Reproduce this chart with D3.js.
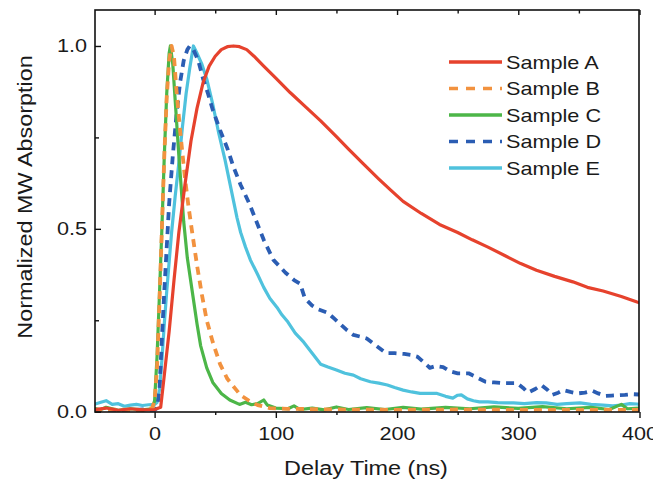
<!DOCTYPE html>
<html>
<head>
<meta charset="utf-8">
<script src="https://cdn.jsdelivr.net/npm/d3@7"></script>
<style>
  body { margin: 0; background: #fff; }
  text { font-family: "Liberation Sans", Arial, sans-serif; fill: #1a1a1a; }
</style>
</head>
<body>
<svg id="chart" width="653" height="484"></svg>
<script>
// values: [delay time (ns), normalized absorption]
const sampleA = [[-50,0.005],[-40,0.01],[-30,0.004],[-20,0.008],[-10,0.005],[0,0.006],[5,0.012],[8,0.1],[12,0.22],[16,0.36],[20,0.49],[25,0.62],[30,0.74],[35,0.83],[40,0.9],[45,0.945],[50,0.972],[55,0.99],[60,0.998],[65,1.0],[70,0.998],[76,0.99],[82,0.972],[90,0.945],[100,0.912],[112,0.872],[125,0.832],[137,0.795],[150,0.752],[160,0.718],[172,0.678],[185,0.636],[195,0.605],[205,0.575],[220,0.542],[235,0.512],[250,0.49],[262,0.47],[275,0.45],[290,0.425],[302,0.405],[315,0.387],[330,0.37],[345,0.355],[357,0.34],[370,0.33],[385,0.315],[398,0.3],[400,0.298]];

const sampleB = [[-50,0.005],[-30,0.006],[-10,0.003],[-2,0.01],[0,0.03],[2,0.12],[4,0.3],[6,0.5],[8,0.7],[10,0.86],[12,0.96],[14,1.0],[16,0.97],[18,0.88],[21,0.77],[25,0.64],[28,0.56],[31,0.49],[35,0.4],[39,0.32],[43,0.25],[48,0.19],[54,0.13],[60,0.09],[66,0.065],[71,0.045],[78,0.03],[85,0.018],[95,0.01],[110,0.008],[150,0.006],[200,0.005],[250,0.006],[300,0.005],[350,0.005],[400,0.005]];

const sampleC = [[-50,0.01],[-45,0.005],[-40,0.012],[-30,0.004],[-20,0.008],[-10,0.005],[-2,0.008],[0,0.03],[2,0.15],[4,0.32],[6,0.5],[8,0.7],[10,0.87],[12,0.98],[13,1.0],[15,0.95],[17,0.85],[20,0.7],[24,0.52],[27,0.42],[31,0.33],[35,0.24],[38,0.18],[43,0.12],[48,0.08],[55,0.05],[62,0.032],[70,0.02],[75,0.026],[80,0.019],[85,0.022],[90,0.032],[93,0.018],[100,0.01],[110,0.008],[115,0.016],[120,0.006],[130,0.01],[140,0.005],[150,0.013],[160,0.006],[175,0.011],[190,0.006],[205,0.012],[220,0.007],[240,0.012],[260,0.008],[280,0.013],[300,0.009],[320,0.014],[340,0.008],[360,0.012],[375,0.006],[385,0.02],[390,0.008],[400,0.01]];

const sampleD = [[-50,0.005],[-30,0.003],[-10,0.006],[0,0.005],[2,0.01],[4,0.06],[6,0.2],[8,0.33],[10,0.45],[12,0.57],[15,0.7],[18,0.81],[21,0.9],[24,0.96],[27,0.99],[29,1.0],[32,0.99],[36,0.96],[40,0.91],[44,0.87],[48,0.825],[54,0.77],[60,0.72],[65,0.67],[71,0.62],[78,0.57],[84,0.52],[90,0.47],[98,0.415],[108,0.38],[115,0.36],[120,0.35],[124,0.31],[130,0.29],[135,0.28],[143,0.27],[148,0.255],[153,0.24],[158,0.225],[164,0.21],[170,0.205],[175,0.2],[183,0.18],[191,0.16],[198,0.16],[206,0.158],[212,0.155],[217,0.15],[222,0.135],[227,0.12],[232,0.125],[238,0.122],[244,0.11],[250,0.105],[259,0.105],[265,0.095],[273,0.082],[280,0.08],[288,0.078],[299,0.078],[304,0.065],[308,0.052],[314,0.062],[319,0.073],[324,0.06],[328,0.046],[333,0.052],[337,0.059],[343,0.054],[349,0.05],[355,0.052],[361,0.057],[366,0.05],[372,0.043],[377,0.044],[382,0.045],[388,0.046],[394,0.048],[400,0.047]];

const sampleE = [[-50,0.02],[-45,0.025],[-40,0.03],[-35,0.02],[-30,0.022],[-25,0.015],[-20,0.018],[-15,0.02],[-10,0.017],[-5,0.019],[0,0.02],[2,0.025],[4,0.06],[6,0.14],[8,0.24],[10,0.33],[12,0.41],[14,0.49],[17,0.59],[20,0.68],[23,0.78],[26,0.87],[29,0.94],[32,1.0],[35,0.98],[39,0.95],[43,0.91],[48,0.84],[53,0.76],[58,0.69],[63,0.61],[68,0.53],[71,0.49],[75,0.45],[79,0.415],[85,0.375],[90,0.34],[95,0.31],[101,0.285],[105,0.265],[110,0.245],[116,0.215],[123,0.19],[130,0.16],[137,0.13],[143,0.122],[150,0.114],[157,0.105],[164,0.1],[170,0.09],[178,0.082],[185,0.078],[192,0.073],[198,0.066],[205,0.059],[212,0.054],[219,0.05],[226,0.05],[233,0.05],[240,0.042],[246,0.037],[250,0.045],[253,0.046],[258,0.035],[263,0.03],[268,0.027],[275,0.027],[283,0.025],[290,0.024],[296,0.024],[305,0.022],[315,0.025],[323,0.024],[332,0.02],[340,0.022],[351,0.024],[360,0.02],[370,0.018],[378,0.016],[385,0.018],[392,0.022],[398,0.021],[400,0.02]];

const sampleNames = ["Sample A", "Sample B", "Sample C", "Sample D", "Sample E"];
const xMajorTicks = [0, 100, 200, 300, 400];
const xMinorTicks = [50, 150, 250, 350];
const yMajorTicks = [0, 0.5, 1.0];
const yMinorTicks = [0.25, 0.75];

const styles = [
  { color: "#e6422d", dash: null },
  { color: "#f2923f", dash: "8,6" },
  { color: "#4cb648", dash: null },
  { color: "#2b5db3", dash: "8,6" },
  { color: "#4fc2dd", dash: null }
];

const series = [sampleA, sampleB, sampleC, sampleD, sampleE];

const svg = d3.select("#chart");
const plotLeft = 95, plotRight = 639, plotTop = 10, plotBottom = 412;

const x = d3.scaleLinear().domain([-50, 400]).range([94, 639.5]);
const y = d3.scaleLinear().domain([0, 1.1]).range([411.7, 9.4]);

svg.append("clipPath").attr("id", "plot")
  .append("rect").attr("x", plotLeft).attr("y", plotTop)
  .attr("width", plotRight - plotLeft).attr("height", plotBottom - plotTop);

const line = d3.line().x(d => x(d[0])).y(d => y(d[1]));

const curves = svg.append("g").attr("clip-path", "url(#plot)");
// draw in reverse so Sample A ends up on top of the others like in the figure
[4, 3, 2, 1, 0].forEach(i => {
  curves.append("path")
    .datum(series[i])
    .attr("fill", "none")
    .attr("stroke", styles[i].color)
    .attr("stroke-width", styles[i].dash ? 3.8 : 3.2)
    .attr("stroke-dasharray", styles[i].dash)
    .attr("stroke-linejoin", "round")
    .attr("d", line);
});

// axes
const fontSize = 18.5;
function styleAxis(g) {
  g.select(".domain").remove();
  g.selectAll("line").attr("stroke", "#111").attr("stroke-width", 1.4);
  g.selectAll("text").style("font-size", fontSize + "px").attr("fill", "#1a1a1a");
}

svg.append("g").attr("transform", `translate(0,${plotBottom})`)
  .call(d3.axisBottom(x).tickValues(xMajorTicks).tickSize(6).tickPadding(9).tickFormat(d3.format("d")))
  .call(styleAxis);
svg.append("g").attr("transform", `translate(0,${plotBottom})`)
  .call(d3.axisBottom(x).tickValues(xMinorTicks).tickSize(3).tickFormat(""))
  .call(styleAxis);
svg.append("g").attr("transform", `translate(0,${plotTop})`)
  .call(d3.axisTop(x).tickValues(xMajorTicks).tickSize(-5).tickFormat(""))
  .call(styleAxis);
svg.append("g").attr("transform", `translate(0,${plotTop})`)
  .call(d3.axisTop(x).tickValues(xMinorTicks).tickSize(-3.5).tickFormat(""))
  .call(styleAxis);
svg.append("g").attr("transform", `translate(${plotLeft},0)`)
  .call(d3.axisLeft(y).tickValues(yMajorTicks).tickSize(-6).tickPadding(8).tickFormat(d3.format(".1f")))
  .call(styleAxis);
svg.append("g").attr("transform", `translate(${plotLeft},0)`)
  .call(d3.axisLeft(y).tickValues(yMinorTicks).tickSize(-4).tickFormat(""))
  .call(styleAxis);

svg.append("rect")
  .attr("x", plotLeft).attr("y", plotTop)
  .attr("width", plotRight - plotLeft).attr("height", plotBottom - plotTop)
  .attr("fill", "none").attr("stroke", "#111").attr("stroke-width", 1.6);

// axis titles
svg.append("text")
  .attr("x", 366).attr("y", 475)
  .attr("text-anchor", "middle")
  .style("font-size", "20px")
  .text("Delay Time (ns)");

svg.append("text")
  .attr("transform", "translate(32,197) rotate(-90)")
  .attr("text-anchor", "middle")
  .style("font-size", "20px")
  .text("Normalized MW Absorption");

// legend
const legend = svg.append("g");
sampleNames.forEach((name, i) => {
  const ly = 62 + i * 26.5;
  legend.append("line")
    .attr("x1", 449).attr("x2", 502).attr("y1", ly).attr("y2", ly)
    .attr("stroke", styles[i].color)
    .attr("stroke-width", 3.6)
    .attr("stroke-dasharray", styles[i].dash ? "9,8" : null);
  legend.append("text")
    .attr("x", 506).attr("y", ly).attr("dy", "0.36em")
    .style("font-size", fontSize + "px")
    .text(name);
});

// the original figure is a bit wider than tall, so widen the glyphs to match
svg.selectAll("text").each(function() {
  const len = this.getComputedTextLength();
  if (len > 0) {
    d3.select(this)
      .attr("textLength", len * 1.17)
      .attr("lengthAdjust", "spacingAndGlyphs");
  }
});
</script>
</body>
</html>
